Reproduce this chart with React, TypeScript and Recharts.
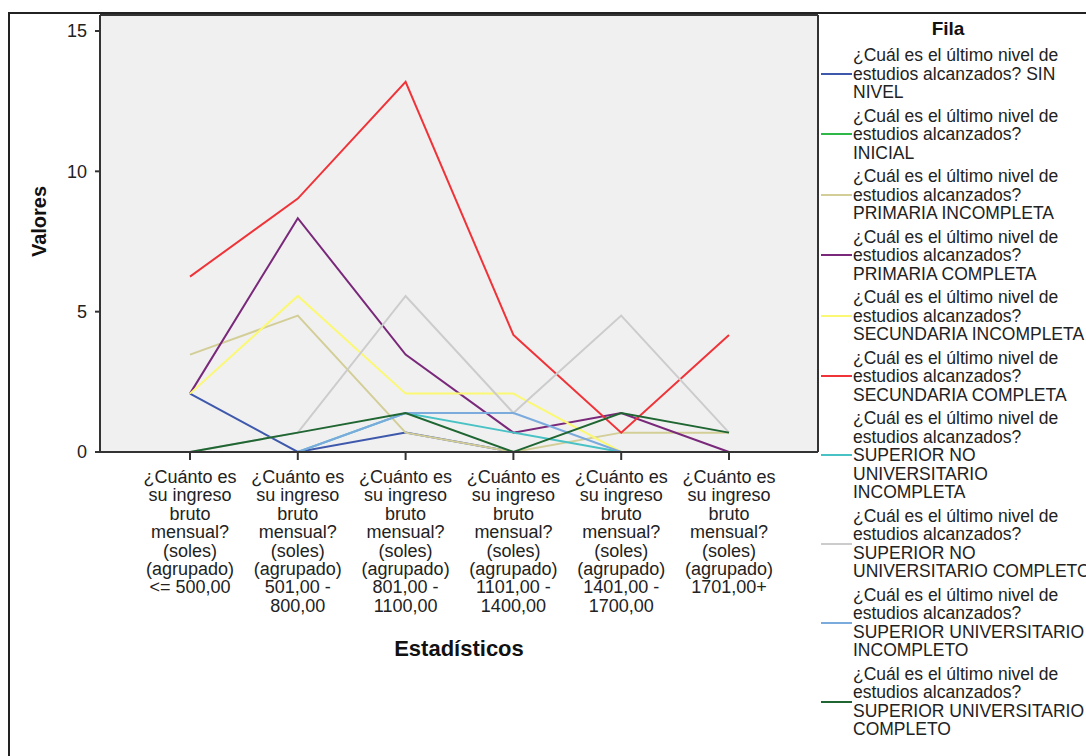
import React from "react";
import {
  LineChart,
  Line,
  XAxis,
  YAxis,
  CartesianGrid,
} from "recharts";

// income brackets (x categories)
const categories = [
  "¿Cuánto es\nsu ingreso\nbruto\nmensual?\n(soles)\n(agrupado)\n<= 500,00",
  "¿Cuánto es\nsu ingreso\nbruto\nmensual?\n(soles)\n(agrupado)\n501,00 -\n800,00",
  "¿Cuánto es\nsu ingreso\nbruto\nmensual?\n(soles)\n(agrupado)\n801,00 -\n1100,00",
  "¿Cuánto es\nsu ingreso\nbruto\nmensual?\n(soles)\n(agrupado)\n1101,00 -\n1400,00",
  "¿Cuánto es\nsu ingreso\nbruto\nmensual?\n(soles)\n(agrupado)\n1401,00 -\n1700,00",
  "¿Cuánto es\nsu ingreso\nbruto\nmensual?\n(soles)\n(agrupado)\n1701,00+",
];

// values per education level (percent)
const sinNivel = [2.08, 0, 0.69, 0, 0, 0];
const inicial = [0, 0, 0, 0, 0, 0];
const primariaIncompleta = [3.47, 4.86, 0.69, 0, 0.69, 0.69];
const primariaCompleta = [2.08, 8.33, 3.47, 0.69, 1.39, 0];
const secundariaIncompleta = [2.08, 5.56, 2.08, 2.08, 0, 0];
const secundariaCompleta = [6.25, 9.03, 13.19, 4.17, 0.69, 4.17];
const supNoUnivIncompleta = [0, 0, 1.39, 0.69, 0, 0];
const supNoUnivCompleto = [0, 0.69, 5.56, 1.39, 4.86, 0.69];
const supUnivIncompleto = [0, 0, 1.39, 1.39, 0, 0];
const supUnivCompleto = [0, 0.69, 1.39, 0, 1.39, 0.69];

const q = "¿Cuál es el último nivel de\nestudios alcanzados?";
const seriesNames = [
  "¿Cuál es el último nivel de\nestudios alcanzados? SIN\nNIVEL",
  q + "\nINICIAL",
  q + "\nPRIMARIA INCOMPLETA",
  q + "\nPRIMARIA COMPLETA",
  q + "\nSECUNDARIA INCOMPLETA",
  q + "\nSECUNDARIA COMPLETA",
  q + "\nSUPERIOR NO\nUNIVERSITARIO\nINCOMPLETA",
  q + "\nSUPERIOR NO\nUNIVERSITARIO COMPLETO",
  q + "\nSUPERIOR UNIVERSITARIO\nINCOMPLETO",
  q + "\nSUPERIOR UNIVERSITARIO\nCOMPLETO",
];
const seriesValues = [
  sinNivel,
  inicial,
  primariaIncompleta,
  primariaCompleta,
  secundariaIncompleta,
  secundariaCompleta,
  supNoUnivIncompleta,
  supNoUnivCompleto,
  supUnivIncompleto,
  supUnivCompleto,
];
const seriesColors = [
  "#3E58AC",
  "#2EB848",
  "#D3CE97",
  "#79287A",
  "#FBF873",
  "#EF3338",
  "#48C2C5",
  "#CCCCCC",
  "#7BAADD",
  "#1F6632",
];
const yTicks = [0, 5, 10, 15];

const data = categories.map((cat, i) => {
  const row: Record<string, any> = { cat };
  seriesValues.forEach((vals, s) => {
    row["s" + s] = vals[i];
  });
  return row;
});

const FONT = "'Liberation Sans', Arial, sans-serif";
const AXIS = "#333";

const CategoryTick = (props: any) => {
  const { x, y, payload } = props;
  const lines = String(payload.value).split("\n");
  return (
    <text x={x} y={y + 21} textAnchor="middle" fontSize={18} fill="#222" fontFamily={FONT}>
      {lines.map((l, i) => (
        <tspan key={i} x={x} dy={i === 0 ? 0 : 18.4}>
          {l}
        </tspan>
      ))}
    </text>
  );
};

export default function App() {
  return (
    <div
      style={{
        position: "fixed",
        left: 8,
        top: 12,
        width: 1078,
        height: 744,
        borderTop: "2px solid #222",
        borderLeft: "2px solid #222",
        overflow: "hidden",
        background: "#fff",
        fontFamily: FONT,
      }}
    >
      <LineChart
        width={1076}
        height={742}
        data={data}
        margin={{ top: 1, right: 268, left: 0, bottom: 4 }}
      >
        {/* grey plot background, frame lines on top and right edge */}
        <CartesianGrid
          fill="#F0F0F0"
          stroke={AXIS}
          strokeWidth={2}
          horizontalCoordinatesGenerator={({ offset }: any) => [offset.top]}
          verticalCoordinatesGenerator={({ offset }: any) => [offset.left + offset.width]}
        />
        <XAxis
          dataKey="cat"
          interval={0}
          height={300}
          padding={{ left: 90, right: 89 }}
          tick={<CategoryTick />}
          tickSize={8}
          tickLine={{ stroke: AXIS, strokeWidth: 2 }}
          axisLine={{ stroke: AXIS, strokeWidth: 2 }}
          label={{
            value: "Estadísticos",
            position: "center",
            dy: 46,
            fontSize: 22,
            fontWeight: "bold",
            fill: "#111",
            fontFamily: FONT,
          }}
        />
        <YAxis
          width={90}
          domain={[0, 15.57]}
          ticks={yTicks}
          tickSize={5}
          tickMargin={8}
          tick={{ fontSize: 18, fill: "#222", fontFamily: FONT }}
          tickLine={{ stroke: AXIS, strokeWidth: 2 }}
          axisLine={{ stroke: AXIS, strokeWidth: 2 }}
          label={{
            value: "Valores",
            angle: -90,
            position: "center",
            dx: -16,
            dy: -12,
            fontSize: 20,
            fontWeight: "bold",
            fill: "#111",
            fontFamily: FONT,
          }}
        />
        {seriesValues.map((_, s) => (
          <Line
            key={s}
            type="linear"
            dataKey={"s" + s}
            name={seriesNames[s]}
            stroke={seriesColors[s]}
            strokeWidth={2}
            dot={false}
            activeDot={false}
            isAnimationActive={false}
          />
        ))}
      </LineChart>

      {/* legend */}
      <div
        style={{
          position: "absolute",
          left: 838,
          top: 3,
          width: 200,
          textAlign: "center",
          fontSize: 19,
          fontWeight: "bold",
          lineHeight: "24px",
          color: "#111",
        }}
      >
        Fila
      </div>
      <div style={{ position: "absolute", left: 811, top: 32 }}>
        {seriesNames.map((name, s) => (
          <div
            key={s}
            style={{ display: "flex", alignItems: "center", marginBottom: 5 }}
          >
            <div style={{ width: 31, height: 2, background: seriesColors[s] }} />
            <div
              style={{
                marginLeft: 1,
                fontSize: 17.5,
                lineHeight: "18.5px",
                whiteSpace: "pre",
                color: "#222",
              }}
            >
              {name}
            </div>
          </div>
        ))}
      </div>
    </div>
  );
}
